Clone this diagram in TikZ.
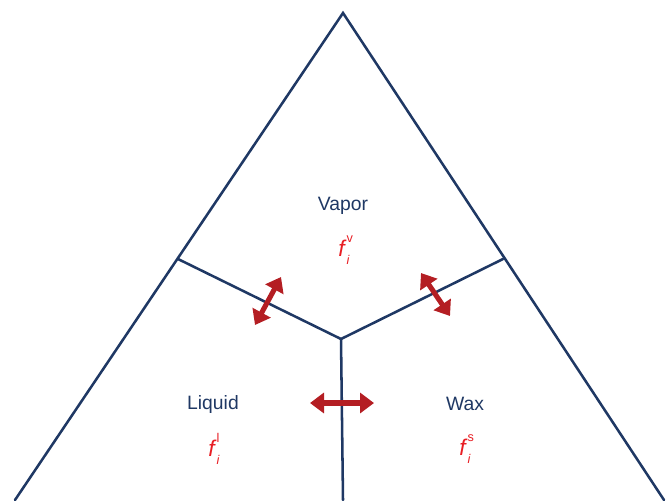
\documentclass[tikz,border=0pt]{standalone}
\usepackage{fontspec}
\setmainfont{Liberation Sans}
\usetikzlibrary{arrows.meta}
\definecolor{navy}{RGB}{31,56,100}
\definecolor{arrred}{RGB}{180,30,35}
\definecolor{fred}{RGB}{232,30,36}
\newcommand{\fugac}[1]{\textit{f}\makebox[0pt][l]{\raisebox{0.6em}{\fontsize{9.5}{9.5}\selectfont #1}}\raisebox{-0.35em}{\fontsize{9.5}{9.5}\selectfont\textit{i}}}
\tikzset{
  border/.style={draw=navy, line width=1.9pt, line cap=round},
  xchg/.style={draw=arrred, line width=3.8pt, arrows={Triangle[length=10.5pt,width=15pt]-Triangle[length=10.5pt,width=15pt]}},
  phase/.style={text=navy, font=\fontsize{14.5}{16}\selectfont, inner sep=0pt},
  fug/.style={text=fred, font=\fontsize{17}{18}\selectfont, inner sep=0pt}
}
\begin{document}
\begin{tikzpicture}[x=0.75pt,y=-0.75pt]
\useasboundingbox (0,0) rectangle (666,500);
\clip (0,0) rectangle (666,500);
\coordinate (apex) at (343,13);
\coordinate (lb) at (15,500);
\coordinate (rb) at (664,500);
\coordinate (lj) at (178,259);
\coordinate (rj) at (503,259);
\coordinate (c) at (341,339);
\coordinate (cb) at (343,500);
\draw[border] (lb) -- (apex) -- (rb);
\draw[border] (lj) -- (c) -- (rj);
\draw[border] (c) -- (cb);
\coordinate (a1s) at (255,325);
\coordinate (a1e) at (281,277);
\coordinate (a2s) at (421,273);
\coordinate (a2e) at (450,316);
\coordinate (a3s) at (310,403);
\coordinate (a3e) at (374,403);
\draw[xchg] (a1s) -- (a1e);
\draw[xchg] (a2s) -- (a2e);
\draw[xchg] (a3s) -- (a3e);
\node[phase] (vap) at (343,206) {Vapor};
\node[fug] (fv) at (344,250) {\fugac{v}};
\node[phase] (liq) at (213,404) {Liquid};
\node[fug] (fl) at (214,449) {\fugac{l}};
\node[phase] (wax) at (465,404) {Wax};
\node[fug] (fs) at (465,449) {\fugac{s}};
\end{tikzpicture}
\end{document}
